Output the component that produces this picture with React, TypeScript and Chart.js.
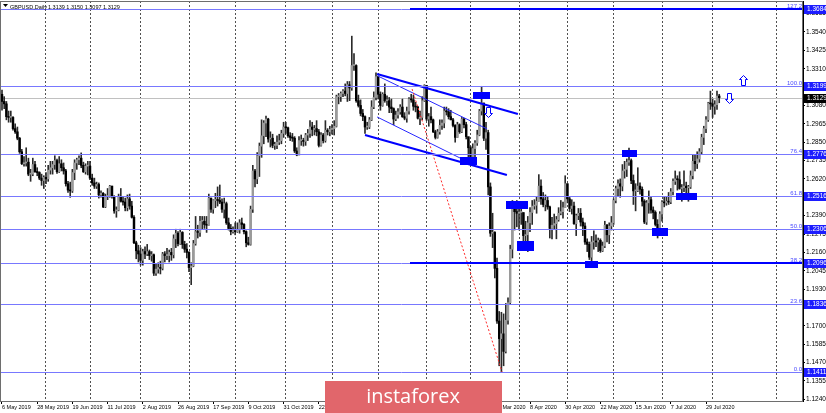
import React, { useEffect, useRef } from "react";
import { Chart, registerables } from "chart.js";

Chart.register(...registerables);

const symbolTitle = "GBPUSD,Daily";
const headerQuote = "1.3139 1.3150 1.3097 1.3129";

// Daily GBPUSD, 6 May 2019 .. 6 Aug 2020 (one entry per bar)
const firstOpen = 1.315;
const closes = [
  1.3105,1.3090,1.3010,1.3005,1.3005,1.2935,1.2915,1.2875,1.2790,1.2715,1.2720,1.2725,1.2650,1.2650,1.2710,1.2665,1.2660,1.2625,1.2610,1.2630,
  1.2620,1.2675,1.2690,1.2710,1.2735,1.2665,1.2715,1.2690,1.2670,1.2590,1.2550,1.2545,1.2660,1.2720,1.2740,1.2750,1.2705,1.2665,1.2700,1.2700,
  1.2625,1.2595,1.2575,1.2585,1.2520,1.2530,1.2445,1.2510,1.2515,1.2575,1.2510,1.2420,1.2425,1.2510,1.2480,1.2475,1.2440,1.2495,1.2450,1.2380,1.2220,1.2170,1.2150,
  1.2110,1.2165,1.2150,1.2165,1.2140,1.2145,1.2030,1.2055,1.2065,1.2060,1.2150,1.2140,1.2140,1.2160,1.2145,1.2245,1.2280,1.2215,1.2285,1.2210,1.2180,1.2160,
  1.2065,1.2075,1.2215,1.2290,1.2285,1.2355,1.2355,1.2335,1.2330,1.2500,1.2430,1.2485,1.2490,1.2485,1.2475,1.2430,1.2465,1.2345,1.2310,1.2290,1.2295,
  1.2290,1.2300,1.2345,1.2335,1.2290,1.2220,1.2210,1.2430,1.2670,1.2620,1.2765,1.2825,1.2890,1.2970,1.2995,1.2870,1.2875,1.2830,1.2830,1.2850,1.2860,1.2905,1.2945,
  1.2940,1.2890,1.2880,1.2875,1.2795,1.2770,1.2860,1.2860,1.2855,1.2895,1.2905,1.2945,1.2930,1.2935,1.2915,1.2830,1.2895,1.2860,1.2925,1.2915,1.2930,
  1.2935,1.2950,1.3135,1.3135,1.3155,1.3170,1.3155,1.3210,1.3190,1.3330,1.3330,1.3110,1.3080,1.3030,1.3010,1.2945,1.2945,1.2990,1.3070,1.3130,1.3260,
  1.3150,1.3080,1.3150,1.3110,1.3110,1.3070,1.3060,1.2995,1.3020,1.3040,1.3070,1.3010,1.3000,1.3045,1.3120,1.3115,1.3075,1.3070,1.3000,1.3005,1.3110,1.3205,
  1.2995,1.3010,1.2990,1.2915,1.2880,1.2915,1.2955,1.2970,1.3045,1.3040,1.3010,1.2990,1.2955,1.2880,1.2960,1.2915,1.2995,1.2960,1.2885,1.2815,
  1.2760,1.2810,1.2845,1.2895,1.3045,1.3095,1.2875,1.2910,1.2570,1.2280,1.2285,1.2060,1.1730,1.1620,1.1650,1.1540,1.1735,1.1845,1.2180,1.2450,1.2415,1.2405,
  1.2410,1.2410,1.2265,1.2270,1.2345,1.2410,1.2450,1.2455,1.2480,1.2575,1.2495,1.2460,1.2485,1.2445,1.2310,1.2330,1.2340,1.2365,1.2405,1.2415,1.2440,1.2590,
  1.2495,1.2435,1.2450,1.2340,1.2390,1.2405,1.2350,1.2325,1.2225,1.2210,1.2130,1.2225,1.2230,1.2225,1.2235,1.2170,1.2200,1.2330,1.2270,1.2325,1.2345,
  1.2485,1.2560,1.2590,1.2575,1.2670,1.2680,1.2725,1.2735,1.2610,1.2545,1.2545,1.2575,1.2555,1.2480,1.2350,1.2470,1.2490,1.2425,1.2410,1.2335,1.2310,1.2400,
  1.2475,1.2470,1.2480,1.2475,1.2540,1.2605,1.2620,1.2615,1.2560,1.2565,1.2575,1.2565,1.2570,1.2640,1.2730,1.2715,1.2745,1.2790,1.2880,1.2935,1.2990,1.3095,1.3090,
  1.3075,1.3085,1.3139,1.3129,
];
const highs = [
  1.3176,1.3135,1.3105,1.3045,1.3045,1.3010,1.2965,1.2945,1.2880,1.2805,1.2760,1.2815,1.2750,1.2680,1.2750,1.2730,1.2690,1.2665,1.2650,1.2640,
  1.2660,1.2705,1.2730,1.2730,1.2765,1.2745,1.2760,1.2740,1.2720,1.2680,1.2605,1.2600,1.2680,1.2740,1.2750,1.2765,1.2783,1.2725,1.2715,1.2730,
  1.2730,1.2650,1.2625,1.2600,1.2595,1.2545,1.2535,1.2525,1.2560,1.2580,1.2575,1.2515,1.2445,1.2525,1.2560,1.2505,1.2500,1.2520,1.2525,1.2480,1.2390,1.2230,1.2205,
  1.2190,1.2180,1.2195,1.2210,1.2175,1.2165,1.2150,1.2090,1.2095,1.2105,1.2160,1.2165,1.2185,1.2175,1.2185,1.2270,1.2305,1.2290,1.2305,1.2290,1.2230,1.2215,
  1.2165,1.2095,1.2235,1.2385,1.2330,1.2385,1.2385,1.2385,1.2385,1.2525,1.2500,1.2490,1.2530,1.2570,1.2582,1.2495,1.2500,1.2475,1.2375,1.2335,1.2320,
  1.2345,1.2345,1.2365,1.2375,1.2340,1.2295,1.2255,1.2450,1.2705,1.2680,1.2785,1.2845,1.2990,1.2985,1.3013,1.3000,1.2915,1.2900,1.2850,1.2890,1.2900,1.2925,1.2975,
  1.2975,1.2945,1.2910,1.2905,1.2885,1.2815,1.2885,1.2895,1.2875,1.2905,1.2930,1.2985,1.2975,1.2955,1.2985,1.2930,1.2910,1.2905,1.2985,1.2935,1.2950,
  1.2960,1.2985,1.3145,1.3155,1.3165,1.3180,1.3215,1.3230,1.3230,1.3514,1.3405,1.3335,1.3145,1.3115,1.3055,1.3015,1.2975,1.3005,1.3110,1.3165,1.3284,
  1.3265,1.3165,1.3160,1.3215,1.3140,1.3130,1.3120,1.3065,1.3045,1.3060,1.3085,1.3120,1.3035,1.3070,1.3130,1.3150,1.3145,1.3100,1.3075,1.3045,1.3135,1.3210,
  1.3205,1.3030,1.3070,1.2995,1.2925,1.2930,1.2990,1.2990,1.3070,1.3070,1.3060,1.3050,1.3000,1.2960,1.2975,1.2965,1.3005,1.3000,1.2975,1.2880,
  1.2825,1.2840,1.2860,1.2925,1.3055,1.3200,1.3095,1.2975,1.2925,1.2595,1.2405,1.2290,1.2125,1.1790,1.1785,1.1775,1.1840,1.1875,1.2205,1.2485,1.2455,1.2485,
  1.2465,1.2460,1.2405,1.2355,1.2385,1.2440,1.2485,1.2490,1.2510,1.2647,1.2615,1.2535,1.2520,1.2510,1.2450,1.2380,1.2400,1.2385,1.2440,1.2485,1.2475,1.2640,
  1.2590,1.2505,1.2490,1.2475,1.2400,1.2435,1.2435,1.2375,1.2345,1.2245,1.2225,1.2260,1.2295,1.2270,1.2250,1.2245,1.2225,1.2355,1.2335,1.2345,1.2385,
  1.2495,1.2575,1.2615,1.2620,1.2710,1.2730,1.2745,1.2813,1.2745,1.2645,1.2590,1.2690,1.2595,1.2570,1.2490,1.2485,1.2545,1.2510,1.2445,1.2420,1.2365,1.2415,
  1.2485,1.2505,1.2505,1.2535,1.2560,1.2620,1.2670,1.2640,1.2665,1.2585,1.2670,1.2600,1.2580,1.2670,1.2770,1.2770,1.2790,1.2810,1.2900,1.2950,1.3010,1.3100,1.3170,
  1.3120,1.3110,1.3170,1.3150,
];
const lows = [
  1.3050,1.3060,1.2990,1.2975,1.2975,1.2925,1.2905,1.2865,1.2780,1.2710,1.2700,1.2700,1.2640,1.2605,1.2640,1.2660,1.2640,1.2615,1.2580,1.2560,
  1.2590,1.2605,1.2650,1.2650,1.2680,1.2655,1.2660,1.2670,1.2650,1.2575,1.2535,1.2505,1.2535,1.2615,1.2680,1.2710,1.2690,1.2660,1.2650,1.2645,
  1.2615,1.2580,1.2560,1.2560,1.2500,1.2505,1.2440,1.2440,1.2490,1.2505,1.2500,1.2405,1.2380,1.2420,1.2475,1.2455,1.2420,1.2420,1.2430,1.2375,1.2215,1.2120,1.2100,
  1.2080,1.2080,1.2120,1.2140,1.2115,1.2105,1.2015,1.2015,1.2030,1.2025,1.2050,1.2100,1.2115,1.2100,1.2110,1.2125,1.2190,1.2200,1.2210,1.2185,1.2160,1.2125,
  1.2040,1.1958,1.2070,1.2205,1.2250,1.2260,1.2305,1.2310,1.2285,1.2330,1.2410,1.2405,1.2440,1.2450,1.2465,1.2410,1.2375,1.2335,1.2300,1.2270,1.2280,
  1.2270,1.2285,1.2280,1.2305,1.2275,1.2195,1.2205,1.2205,1.2410,1.2570,1.2590,1.2635,1.2755,1.2840,1.2885,1.2850,1.2820,1.2815,1.2805,1.2810,1.2835,1.2840,1.2880,
  1.2905,1.2880,1.2860,1.2855,1.2785,1.2765,1.2770,1.2830,1.2825,1.2830,1.2860,1.2880,1.2890,1.2895,1.2890,1.2820,1.2825,1.2845,1.2850,1.2895,1.2890,
  1.2900,1.2895,1.2945,1.3090,1.3105,1.3135,1.3140,1.3105,1.3110,1.3175,1.3300,1.3100,1.3070,1.3015,1.2985,1.2905,1.2930,1.2935,1.2985,1.3060,1.3115,
  1.3120,1.3050,1.3075,1.3100,1.3080,1.3035,1.3035,1.2960,1.2985,1.3000,1.3025,1.3005,1.2990,1.2975,1.3025,1.3100,1.3050,1.3040,1.2995,1.2960,1.2990,1.3105,
  1.2985,1.2950,1.2970,1.2910,1.2870,1.2875,1.2900,1.2930,1.2940,1.3020,1.2995,1.2990,1.2945,1.2850,1.2880,1.2905,1.2910,1.2940,1.2870,1.2725,
  1.2730,1.2740,1.2755,1.2830,1.2890,1.3020,1.2860,1.2805,1.2520,1.2260,1.2190,1.2000,1.1715,1.1450,1.1410,1.1450,1.1530,1.1710,1.1835,1.2125,1.2300,1.2320,
  1.2300,1.2335,1.2207,1.2210,1.2165,1.2290,1.2335,1.2430,1.2405,1.2480,1.2460,1.2445,1.2420,1.2430,1.2250,1.2245,1.2305,1.2245,1.2355,1.2395,1.2375,1.2440,
  1.2470,1.2415,1.2400,1.2335,1.2265,1.2365,1.2325,1.2265,1.2210,1.2165,1.2115,1.2075,1.2180,1.2195,1.2165,1.2160,1.2165,1.2190,1.2225,1.2215,1.2300,
  1.2335,1.2470,1.2510,1.2505,1.2545,1.2625,1.2635,1.2705,1.2590,1.2460,1.2420,1.2540,1.2525,1.2450,1.2340,1.2335,1.2405,1.2405,1.2370,1.2325,1.2250,1.2295,
  1.2355,1.2445,1.2455,1.2460,1.2465,1.2520,1.2585,1.2550,1.2555,1.2480,1.2540,1.2525,1.2480,1.2560,1.2620,1.2670,1.2685,1.2725,1.2775,1.2835,1.2910,1.2980,1.3055,
  1.3005,1.3025,1.3055,1.3097,
];

const dateTickIndex = [0, 16, 32, 48, 64, 80, 96, 112, 128, 144, 160, 176, 192, 208, 224, 240, 256, 272, 288, 304, 320];
const dateTickLabels = [
  "6 May 2019", "28 May 2019", "19 Jun 2019", "11 Jul 2019", "2 Aug 2019", "26 Aug 2019", "17 Sep 2019",
  "9 Oct 2019", "31 Oct 2019", "22 Nov 2019", "16 Dec 2019", "9 Jan 2020", "31 Jan 2020", "24 Feb 2020",
  "17 Mar 2020", "8 Apr 2020", "30 Apr 2020", "22 May 2020", "15 Jun 2020", "7 Jul 2020", "29 Jul 2020",
];
const monthGridIndex = [20, 40, 63, 85, 106, 129, 150, 171, 193, 213, 235, 257, 278, 300, 323, 352];
const priceTicks = [
  1.3655, 1.354, 1.3425, 1.331, 1.3195, 1.308, 1.2965, 1.285, 1.2735, 1.262, 1.2505, 1.239, 1.2275,
  1.216, 1.2045, 1.193, 1.1815, 1.17, 1.1585, 1.147, 1.1355, 1.124,
];
const fibLevels = [1.1411, 1.1836, 1.2096, 1.2306, 1.2516, 1.2776, 1.3199, 1.3684];
const fibNames = ["0.0", "23.6", "38.2", "50.0", "61.8", "76.4", "100.0", "127.2"];
const currentPrice = 1.3129;
const strongLevels = [1.3684, 1.2096];
const strongLevelStart = 185.5;

const channelUpper = [{ x: 170.5, y: 1.3277 }, { x: 234.5, y: 1.3027 }];
const channelLower = [{ x: 165, y: 1.2895 }, { x: 229.5, y: 1.2645 }];
const innerLineA = [{ x: 170.9, y: 1.3264 }, { x: 220.5, y: 1.2933 }];
const innerLineB = [{ x: 170.5, y: 1.3008 }, { x: 208.2, y: 1.2751 }];
const redDotted = [{ x: 186.4, y: 1.3183 }, { x: 227.3, y: 1.1411 }];

const blueBoxes = [
  { x0: 214.1, x1: 221.8, y0: 1.3164, y1: 1.312 },
  { x0: 208.2, x1: 215.9, y0: 1.2757, y1: 1.2707 },
  { x0: 229.1, x1: 239.1, y0: 1.2482, y1: 1.2432 },
  { x0: 234.1, x1: 241.8, y0: 1.2231, y1: 1.2169 },
  { x0: 265.0, x1: 270.9, y0: 1.2106, y1: 1.2062 },
  { x0: 281.8, x1: 288.6, y0: 1.2801, y1: 1.2757 },
  { x0: 295.5, x1: 302.7, y0: 1.2313, y1: 1.2263 },
  { x0: 306.4, x1: 315.9, y0: 1.2532, y1: 1.2488 },
];
const arrows = [
  { x: 336.8, y: 1.3239, dir: "up" },
  { x: 330.5, y: 1.3127, dir: "down" },
  { x: 221.1, y: 1.3036, dir: "down" },
];

const X_MIN = -0.909;
const X_MAX = 364.09;
const Y_MAX = 1.37341;
const Y_MIN = 1.12294;

const FONT = "'Liberation Sans', Arial, sans-serif";
const BLUE = "#0000ff";
const FIB_BLUE = "#7878ff";

const opens = closes.map((c, i) => (i === 0 ? firstOpen : closes[i - 1]));

const overlayPlugin = {
  id: "mtOverlay",
  beforeDatasetsDraw(chart: any) {
    const { ctx, chartArea: a, scales } = chart;
    const y = scales.y;
    const x = scales.x;
    ctx.save();
    ctx.beginPath();
    ctx.rect(a.left, a.top, a.right - a.left, a.bottom - a.top);
    ctx.clip();
    // current price (bid) line
    const cp = Math.round(y.getPixelForValue(currentPrice)) + 0.5;
    ctx.strokeStyle = "#c0c0c0";
    ctx.lineWidth = 1;
    ctx.beginPath();
    ctx.moveTo(a.left, cp);
    ctx.lineTo(a.right, cp);
    ctx.stroke();
    ctx.restore();
    void x;
  },
  afterDatasetsDraw(chart: any) {
    const { ctx, chartArea: a, scales } = chart;
    const x = scales.x;
    const y = scales.y;
    ctx.save();
    ctx.beginPath();
    ctx.rect(a.left, a.top, a.right - a.left, a.bottom - a.top);
    ctx.clip();
    // fibo levels (crisp 1px)
    ctx.strokeStyle = FIB_BLUE;
    ctx.lineWidth = 1;
    fibLevels.forEach((lv) => {
      const py = Math.round(y.getPixelForValue(lv)) + 0.5;
      ctx.beginPath();
      ctx.moveTo(a.left, py);
      ctx.lineTo(a.right, py);
      ctx.stroke();
    });
    // strong horizontal levels
    ctx.strokeStyle = BLUE;
    ctx.lineWidth = 2;
    const sx = Math.round(x.getPixelForValue(strongLevelStart));
    strongLevels.forEach((lv) => {
      const py = Math.round(y.getPixelForValue(lv));
      ctx.beginPath();
      ctx.moveTo(sx, py);
      ctx.lineTo(a.right, py);
      ctx.stroke();
    });
    // rectangles
    ctx.fillStyle = BLUE;
    for (const r of blueBoxes) {
      const x0 = x.getPixelForValue(r.x0);
      const x1 = x.getPixelForValue(r.x1);
      const y0 = y.getPixelForValue(r.y0);
      const y1 = y.getPixelForValue(r.y1);
      ctx.fillRect(Math.round(Math.min(x0, x1)), Math.round(Math.min(y0, y1)), Math.round(Math.abs(x1 - x0)), Math.round(Math.abs(y1 - y0)));
    }
    // hollow arrows
    for (const ar of arrows) {
      const cx = Math.round(x.getPixelForValue(ar.x)) + 0.5;
      const cy = Math.round(y.getPixelForValue(ar.y)) + 0.5;
      const s = ar.dir === "up" ? -1 : 1;
      ctx.beginPath();
      ctx.moveTo(cx, cy + s * 5);
      ctx.lineTo(cx - 4, cy + s * 1);
      ctx.lineTo(cx - 2, cy + s * 1);
      ctx.lineTo(cx - 2, cy - s * 5);
      ctx.lineTo(cx + 2, cy - s * 5);
      ctx.lineTo(cx + 2, cy + s * 1);
      ctx.lineTo(cx + 4, cy + s * 1);
      ctx.closePath();
      ctx.fillStyle = "#ffffff";
      ctx.fill();
      ctx.strokeStyle = BLUE;
      ctx.lineWidth = 1;
      ctx.stroke();
    }
    // fibo labels
    ctx.font = `6px ${FONT}`;
    ctx.fillStyle = "#4a4aff";
    ctx.textAlign = "right";
    ctx.textBaseline = "alphabetic";
    fibLevels.forEach((lv, i) => {
      const py = Math.round(y.getPixelForValue(lv));
      ctx.fillText(fibNames[i], a.right - 1, py - 1);
    });
    ctx.restore();
  },
  afterDraw(chart: any) {
    const { ctx, chartArea: a, scales } = chart;
    const y = scales.y;
    ctx.save();
    // frame
    ctx.strokeStyle = "#6e6e6e";
    ctx.lineWidth = 1;
    ctx.strokeRect(a.left + 0.5, a.top + 0.5, a.right - a.left - 1, a.bottom - a.top);
    // header
    ctx.fillStyle = "#000";
    ctx.beginPath();
    ctx.moveTo(3, 4);
    ctx.lineTo(8, 4);
    ctx.lineTo(5.5, 7);
    ctx.closePath();
    ctx.fill();
    ctx.font = `5.5px ${FONT}`;
    ctx.textAlign = "left";
    ctx.textBaseline = "alphabetic";
    ctx.fillText(symbolTitle, 10, 8.5);
    ctx.fillText(headerQuote, 48, 8.5);
    // axis highlight boxes
    ctx.font = `6.5px ${FONT}`;
    ctx.textBaseline = "middle";
    const drawBox = (v: number, fill: string) => {
      const py = Math.round(y.getPixelForValue(v));
      ctx.fillStyle = fill;
      ctx.fillRect(a.right + 1, py - 4, 23, 9);
      ctx.fillStyle = "#fff";
      ctx.fillText(v.toFixed(4), a.right + 4, py + 0.5);
    };
    fibLevels.forEach((lv) => drawBox(lv, "#1c1cff"));
    drawBox(currentPrice, "#000000");
    // watermark logo
    ctx.fillStyle = "#e1666b";
    ctx.fillRect(325, 381, 177, 32);
    ctx.fillStyle = "#ffffff";
    ctx.font = `20px 'Open Sans', ${FONT}`;
    ctx.textAlign = "center";
    ctx.textBaseline = "alphabetic";
    ctx.fillText("instaforex", 413, 403);
    ctx.restore();
  },
};

const segment = (pts: any[], color: string, width: number, order: number, dash: number[] = []) => ({
  type: "line" as const,
  data: pts,
  borderColor: color,
  borderWidth: width,
  borderDash: dash,
  pointRadius: 0,
  fill: false,
  order,
});

export default function App() {
  const ref = useRef<HTMLCanvasElement | null>(null);

  useEffect(() => {
    if (!ref.current) return;
    Chart.defaults.font.family = FONT;
    const bull = closes.map((c, i) => c >= opens[i]);
    const datasets: any[] = [
      {
        type: "bar",
        data: closes.map((c, i) => ({ x: i, y: [lows[i], highs[i]] })),
        backgroundColor: "#2a2a2a",
        barThickness: 1,
        grouped: false,
        order: 20,
      },
      {
        type: "bar",
        data: closes.map((c, i) => ({ x: i, y: [opens[i], c] })),
        backgroundColor: bull.map((b) => (b ? "#9a9a9a" : "#000000")),
        barThickness: 1.8,
        minBarLength: 1,
        grouped: false,
        order: 19,
      },
      segment(innerLineA, "#2828ff", 1, 5),
      segment(innerLineB, "#2828ff", 1, 5),
      segment(channelUpper, BLUE, 2, 4),
      segment(channelLower, BLUE, 2, 4),
      segment(redDotted, "#ff2a2a", 1, 3, [2, 2]),
    ];

    const chart = new Chart(ref.current, {
      type: "bar",
      data: { datasets },
      options: {
        animation: false,
        responsive: false,
        devicePixelRatio: 1,
        layout: { padding: { top: 1, left: 0, right: 0, bottom: 0 } },
        plugins: { legend: { display: false }, tooltip: { enabled: false } },
        events: [],
        scales: {
          x: {
            type: "linear",
            min: X_MIN,
            max: X_MAX,
            offset: false,
            afterBuildTicks: (s: any) => {
              s.ticks = dateTickIndex.map((v) => ({ value: v }));
            },
            afterFit: (s: any) => {
              s.height = 12;
              s.paddingLeft = 0;
              s.paddingRight = 0;
            },
            ticks: {
              autoSkip: false,
              maxRotation: 0,
              minRotation: 0,
              align: "start",
              padding: 0,
              color: "#000",
              font: { size: 5.5, family: FONT },
              callback: (_v: any, i: number) => dateTickLabels[i],
            },
            grid: { drawOnChartArea: false, drawTicks: true, tickLength: 3, color: "#000", offset: false },
            border: { display: false },
          },
          xg: {
            type: "linear",
            position: "bottom",
            min: X_MIN,
            max: X_MAX,
            offset: false,
            afterBuildTicks: (s: any) => {
              s.ticks = monthGridIndex.map((v) => ({ value: v }));
            },
            afterFit: (s: any) => {
              s.height = 0;
              s.paddingLeft = 0;
              s.paddingRight = 0;
            },
            ticks: { display: false },
            grid: { drawOnChartArea: true, drawTicks: false, color: "#505050", lineWidth: 1, offset: false },
            border: { display: false, dash: [2, 2] },
          },
          y: {
            type: "linear",
            position: "right",
            min: Y_MIN,
            max: Y_MAX,
            afterBuildTicks: (s: any) => {
              s.ticks = priceTicks.map((v) => ({ value: v }));
            },
            afterFit: (s: any) => {
              s.width = 23;
              s.paddingTop = 0;
              s.paddingBottom = 0;
            },
            ticks: {
              autoSkip: false,
              padding: 1,
              color: "#000",
              font: { size: 6.5, family: FONT },
              callback: (v: any) => Number(v).toFixed(4),
            },
            grid: { drawOnChartArea: false, drawTicks: true, tickLength: 2, color: "#000" },
            border: { display: true, color: "#000" },
          },
        },
      },
      plugins: [overlayPlugin],
    } as any);

    return () => chart.destroy();
  }, []);

  return (
    <div style={{ position: "fixed", left: 0, top: 0, width: 826, height: 413, background: "#fff" }}>
      <canvas ref={ref} width={826} height={413} style={{ display: "block", width: 826, height: 413 }} />
    </div>
  );
}
